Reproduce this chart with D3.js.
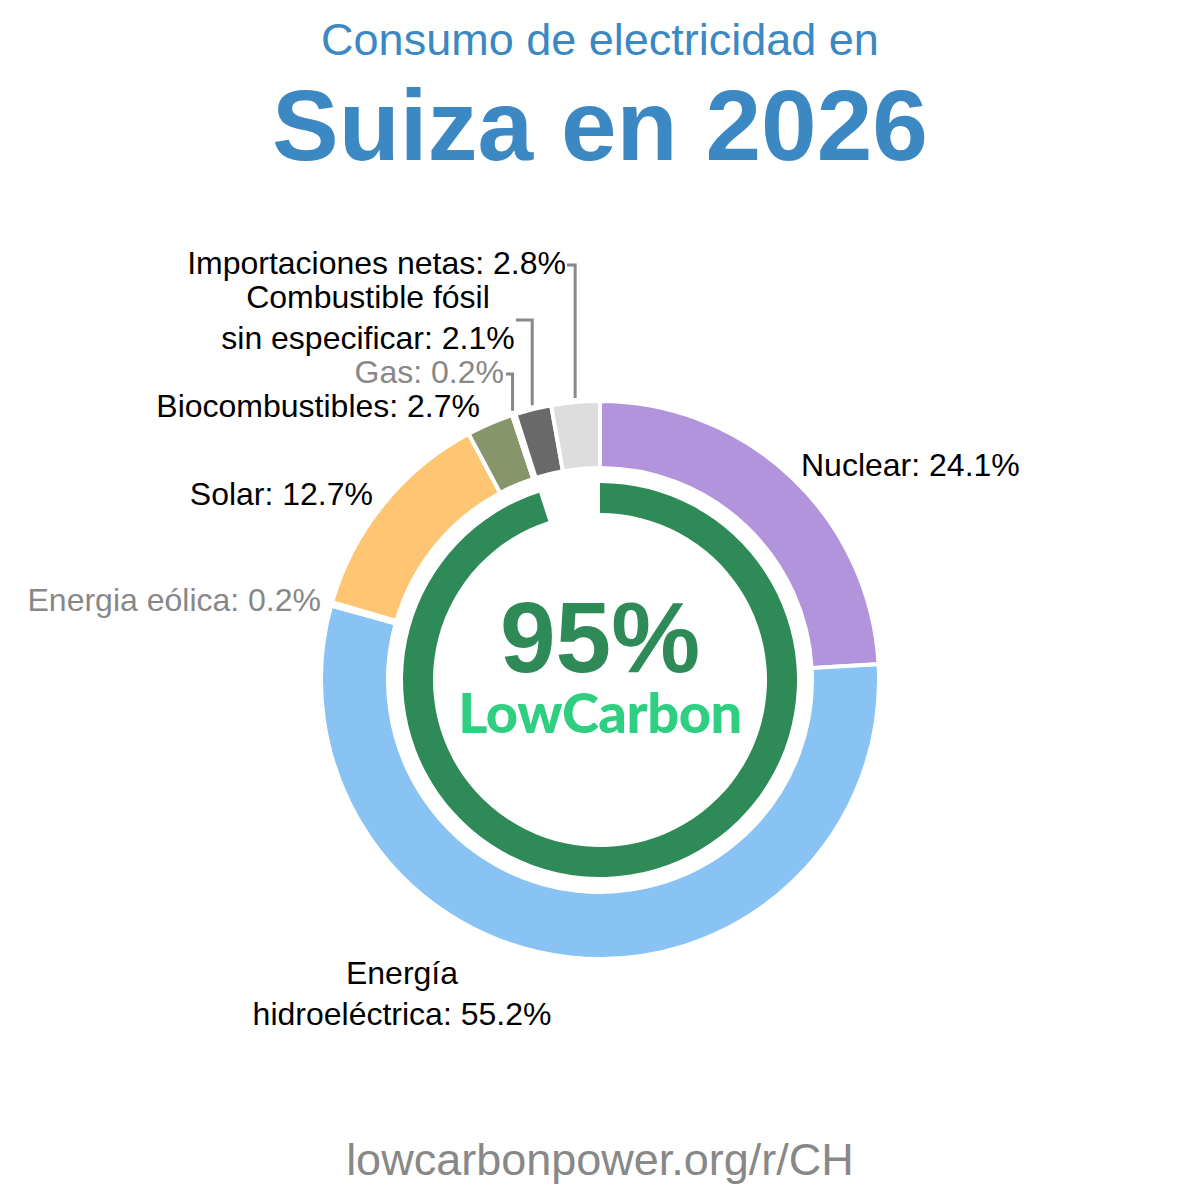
<!DOCTYPE html>
<html>
<head>
<meta charset="utf-8">
<script src="https://cdn.jsdelivr.net/npm/d3@7"></script>
<style>
  html, body { margin: 0; padding: 0; background: #fff; }
  svg { display: block; font-family: "Liberation Sans", Arial, sans-serif; }
</style>
</head>
<body>
<svg id="chart" width="1200" height="1200"></svg>
<script>
// ---- data ----
const sources = ["Nuclear", "Energía hidroeléctrica", "Energia eólica", "Solar", "Biocombustibles", "Gas", "Combustible fósil sin especificar", "Importaciones netas"];
const shares = [24.1, 55.2, 0.2, 12.7, 2.7, 0.2, 2.1, 2.8];
const colours = ["#b194dc", "#89c3f3", "#a6d8e8", "#fec572", "#87956b", "#7f7f7f", "#696969", "#dddddd"];
const labelLines = [
  ["Nuclear: 24.1%"],
  ["Energía", "hidroeléctrica: 55.2%"],
  ["Energia eólica: 0.2%"],
  ["Solar: 12.7%"],
  ["Biocombustibles: 2.7%"],
  ["Gas: 0.2%"],
  ["Combustible fósil", "sin especificar: 2.1%"],
  ["Importaciones netas: 2.8%"]
];
const lowCarbonShare = 95;
const titleTop = "Consumo de electricidad en";
const titleMain = "Suiza en 2026";
const footer = "lowcarbonpower.org/r/CH";

// ---- layout ----
const cx = 600, cy = 680;
const rOuter = 279, rInner = 212;
const gOuter = 197, gInner = 167;
const fs = 32;
const labelLayout = [
  {x: 801, y: 476, anchor: "start"},
  {x: 402, y: 984, anchor: "middle"},
  {x: 321, y: 611, anchor: "end", muted: true},
  {x: 373, y: 505, anchor: "end"},
  {x: 480, y: 417, anchor: "end"},
  {x: 504, y: 383, anchor: "end", muted: true, leaderY: 374, leaderX0: 506},
  {x: 368, y: 308, anchor: "middle", leaderY: 320, leaderX0: 516},
  {x: 566, y: 274, anchor: "end", leaderY: 265, leaderX0: 567}
];

const svg = d3.select("#chart");

svg.append("text")
  .attr("x", 600).attr("y", 55)
  .attr("text-anchor", "middle")
  .attr("font-size", 45)
  .attr("fill", "#3b88c3")
  .text(titleTop);

svg.append("text")
  .attr("x", 600).attr("y", 160)
  .attr("text-anchor", "middle")
  .attr("font-size", 100)
  .attr("font-weight", "bold")
  .attr("fill", "#3b88c3")
  .text(titleMain);

const pie = d3.pie().sort(null).value(d => d).startAngle(0).endAngle(2 * Math.PI);
const arcs = pie(shares);
const arc = d3.arc().innerRadius(rInner).outerRadius(rOuter);

const g = svg.append("g").attr("transform", `translate(${cx},${cy})`);

g.selectAll("path.slice")
  .data(arcs)
  .join("path")
  .attr("class", "slice")
  .attr("d", arc)
  .attr("fill", (d, i) => colours[i])
  .attr("stroke", "#fff")
  .attr("stroke-width", 4);

// low carbon ring
const ringArc = d3.arc().innerRadius(gInner).outerRadius(gOuter)
  .startAngle(0).endAngle(2 * Math.PI * lowCarbonShare / 100);
g.append("path").attr("d", ringArc()).attr("fill", "#2e8b57");

g.append("text")
  .attr("x", 0).attr("y", -8)
  .attr("text-anchor", "middle")
  .attr("font-size", 100)
  .attr("font-weight", "bold")
  .attr("fill", "#2e8b57")
  .text(lowCarbonShare + "%");

g.append("text")
  .attr("x", 0).attr("y", 53)
  .attr("text-anchor", "middle")
  .attr("font-family", "Lato, 'Open Sans', sans-serif")
  .attr("font-size", 56)
  .attr("font-weight", 900)
  .attr("letter-spacing", -0.5)
  .attr("fill", "#2ecf80")
  .text("LowCarbon");

// leaders
const leaderR = 283;
arcs.forEach((a, i) => {
  const L = labelLayout[i];
  if (L.leaderY == null) return;
  const mid = (a.startAngle + a.endAngle) / 2;
  const lx = cx + leaderR * Math.sin(mid);
  const ly = cy - leaderR * Math.cos(mid);
  svg.append("path")
    .attr("d", `M${L.leaderX0},${L.leaderY}H${lx}V${ly}`)
    .attr("fill", "none")
    .attr("stroke", "#888")
    .attr("stroke-width", 3);
});

// labels
labelLines.forEach((lines, i) => {
  const L = labelLayout[i];
  const t = svg.append("text")
    .attr("x", L.x).attr("y", L.y)
    .attr("text-anchor", L.anchor)
    .attr("font-size", fs)
    .attr("fill", L.muted ? "#888" : "#000");
  lines.forEach((s, k) => {
    t.append("tspan").attr("x", L.x).attr("dy", k === 0 ? 0 : 41).text(s);
  });
});

svg.append("text")
  .attr("x", 600).attr("y", 1175)
  .attr("text-anchor", "middle")
  .attr("font-size", 45)
  .attr("fill", "#888")
  .text(footer);
</script>
</body>
</html>
